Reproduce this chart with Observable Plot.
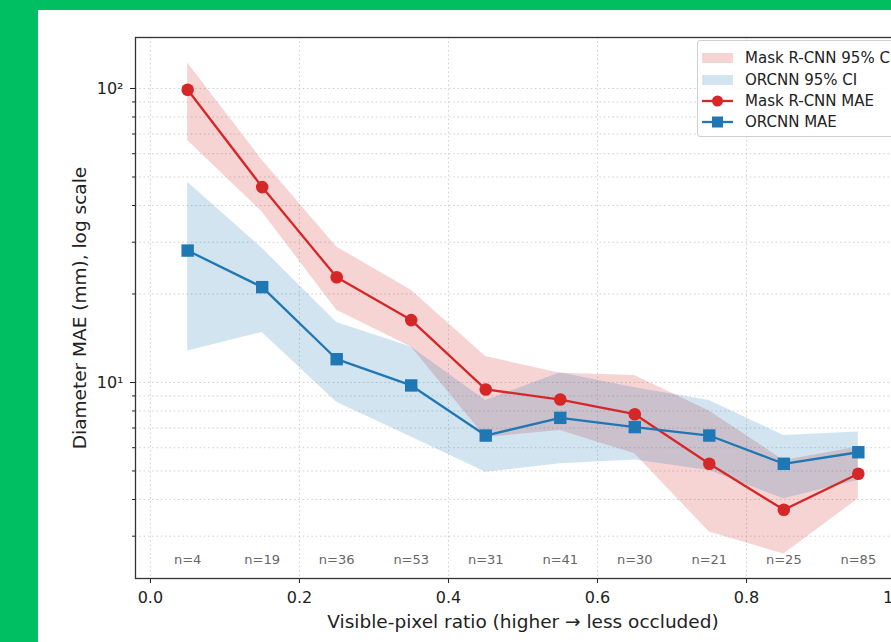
<!DOCTYPE html>
<html>
<head>
<meta charset="utf-8">
<script src="https://cdn.jsdelivr.net/npm/d3@7"></script>
<script src="https://cdn.jsdelivr.net/npm/@observablehq/plot@0.6"></script>
<style>
html, body { margin: 0; padding: 0; width: 891px; height: 642px; overflow: hidden; background: #00bf63; }
#panel { position: absolute; left: 38px; top: 10px; width: 900px; height: 660px; background: #ffffff; overflow: visible; }
#chart { position: absolute; left: 0; top: 0; }
#chart svg { max-width: none !important; }
#legend { position: absolute; left: 659px; top: 30px; width: 260px; height: 97px;
  background: rgba(255,255,255,0.85); border: 1px solid #cfcfcf; border-radius: 3px; box-sizing: border-box; }
</style>
</head>
<body>
<div id="panel"><div id="chart"></div><div id="legend"></div></div>
<script>
// ---- data ----
const bins = [0.05, 0.15, 0.25, 0.35, 0.45, 0.55, 0.65, 0.75, 0.85, 0.95];
const nLabels = ["n=4", "n=19", "n=36", "n=53", "n=31", "n=41", "n=30", "n=21", "n=25", "n=85"];
const maskMAE = [99, 46.2, 22.8, 16.3, 9.47, 8.75, 7.8, 5.29, 3.69, 4.89];
const maskLo  = [66.5, 38, 17.6, 13.2, 6.5, 6.87, 5.72, 3.10, 2.61, 4.02];
const maskHi  = [122, 57, 28.9, 20.6, 12.25, 10.75, 10.56, 8.0, 5.43, 6.03];
const orcnnMAE = [28.1, 21.1, 12.0, 9.77, 6.6, 7.58, 7.05, 6.6, 5.29, 5.79];
const orcnnLo  = [12.8, 14.8, 8.57, 6.52, 4.95, 5.29, 5.45, 5.02, 4.02, 4.64];
const orcnnHi  = [48, 28.6, 16.0, 13.2, 8.69, 10.8, 9.6, 8.69, 6.6, 6.78];
const xTicks = [0, 0.2, 0.4, 0.6, 0.8, 1.0];
const yMajor = [10, 100];
const yMajorLabels = ["10¹", "10²"];
const yMinor = [3, 4, 5, 6, 7, 8, 9, 20, 30, 40, 50, 60, 70, 80, 90];
const xLabel = "Visible-pixel ratio (higher → less occluded)";
const yLabel = "Diameter MAE (mm), log scale";
const legendLabels = ["Mask R-CNN 95% CI", "ORCNN 95% CI", "Mask R-CNN MAE", "ORCNN MAE"];

const RED = "#d62728", BLUE = "#1f77b4";
const rows = bins.map((x, i) => ({
  x, n: nLabels[i],
  maskMAE: maskMAE[i], maskLo: maskLo[i], maskHi: maskHi[i],
  orcnnMAE: orcnnMAE[i], orcnnLo: orcnnLo[i], orcnnHi: orcnnHi[i]
}));

const W = 920, H = 632;
const gridStyle = {stroke: "#b8b8b8", strokeOpacity: 0.75, strokeDasharray: "1.5,2.8", strokeWidth: 0.9};

const chart = Plot.plot({
  width: W, height: H,
  marginLeft: 97, marginTop: 27, marginRight: W - 872, marginBottom: H - 568,
  style: {fontFamily: "'DejaVu Sans', sans-serif", fontSize: "16px", color: "#222", background: "transparent", overflow: "visible", maxWidth: "none"},
  x: {domain: [-0.02, 1.02]},
  y: {type: "log", domain: [2.154, 149.1]},
  marks: [
    Plot.gridX(xTicks, gridStyle),
    Plot.gridY([...yMinor, ...yMajor], gridStyle),
    Plot.areaY(rows, {x: "x", y1: "maskLo", y2: "maskHi", fill: RED, fillOpacity: 0.2}),
    Plot.areaY(rows, {x: "x", y1: "orcnnLo", y2: "orcnnHi", fill: BLUE, fillOpacity: 0.2}),
    Plot.line(rows, {x: "x", y: "maskMAE", stroke: RED, strokeWidth: 2.3}),
    Plot.dot(rows, {x: "x", y: "maskMAE", fill: RED, r: 6.3, symbol: "circle"}),
    Plot.line(rows, {x: "x", y: "orcnnMAE", stroke: BLUE, strokeWidth: 2.3}),
    Plot.dot(rows, {x: "x", y: "orcnnMAE", fill: BLUE, r: 7, symbol: "square"}),
    Plot.text(rows, {x: "x", text: "n", frameAnchor: "bottom", dy: -15, fontSize: 13, fill: "#666"}),
    Plot.axisX(xTicks, {tickFormat: d3.format(".1f"), tickSize: 5, tickPadding: 8, fontSize: 16,
      label: null}),
    Plot.axisX(xTicks, {tickSize: 0, tickFormat: () => "", fontSize: 18.5,
      label: xLabel, labelAnchor: "center", labelOffset: 49, labelArrow: "none"}),
    Plot.axisY(yMajor, {tickFormat: (d) => yMajorLabels[yMajor.indexOf(d)], tickSize: 5, tickPadding: 7, fontSize: 16,
      label: null}),
    Plot.axisY(yMinor, {tickFormat: () => "", tickSize: 3, fontSize: 18.5,
      label: yLabel, labelAnchor: "center", labelOffset: 63, labelArrow: "none"}),
    Plot.frame({stroke: "#333", strokeWidth: 1.3})
  ]
});
document.getElementById("chart").appendChild(chart);

// legend
const rowY = [18, 40, 61, 82];
let svg = `<svg width="260" height="97" style="position:absolute;left:-1px;top:-1px;font-family:'DejaVu Sans',sans-serif;font-size:15px;fill:#222">`;
legendLabels.forEach((lab, i) => {
  const y = rowY[i];
  if (i === 0) svg += `<rect x="5" y="${y-5}" width="31" height="10" fill="${RED}" fill-opacity="0.2"/>`;
  if (i === 1) svg += `<rect x="5" y="${y-5}" width="31" height="10" fill="${BLUE}" fill-opacity="0.2"/>`;
  if (i === 2) svg += `<line x1="5" x2="36" y1="${y}" y2="${y}" stroke="${RED}" stroke-width="2.3"/><circle cx="20.5" cy="${y}" r="5.5" fill="${RED}"/>`;
  if (i === 3) svg += `<line x1="5" x2="36" y1="${y}" y2="${y}" stroke="${BLUE}" stroke-width="2.3"/><rect x="15" y="${y-5.5}" width="11" height="11" fill="${BLUE}"/>`;
  svg += `<text x="48" y="${y}" dy="0.35em">${lab}</text>`;
});
svg += `</svg>`;
document.getElementById("legend").innerHTML = svg;
</script>
</body>
</html>
